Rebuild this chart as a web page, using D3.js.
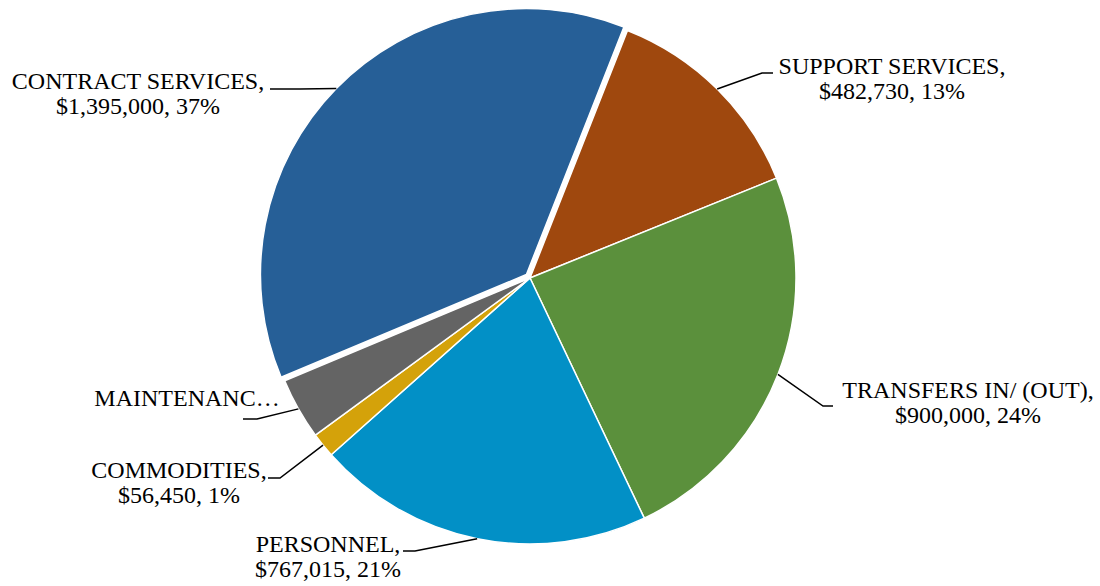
<!DOCTYPE html>
<html>
<head>
<meta charset="utf-8">
<script src="https://cdn.jsdelivr.net/npm/d3@7"></script>
<style>
  body { margin: 0; background: #fff; }
  svg text { font-family: "Liberation Serif", "Times New Roman", serif; font-size: 24px; fill: #000; }
</style>
</head>
<body>
<svg id="chart" width="1100" height="586"></svg>
<script>
// Budget by category (clockwise from the first slice)
const categories = ["SUPPORT SERVICES", "TRANSFERS IN/ (OUT)", "PERSONNEL", "COMMODITIES", "MAINTENANCE", "CONTRACT SERVICES"];
const values = [482730, 900000, 767015, 56450, 140000, 1395000];
const percentLabels = ["13%", "24%", "21%", "1%", "4%", "37%"];
const colors = ["#9f480e", "#5b903c", "#0290c6", "#d4a20a", "#646464", "#265f97"];

// Label text placement: centre x, first baseline, leader elbow and end
const labelLayout = {
  "SUPPORT SERVICES":    { x: 892, y: 74,  elbow: [762, 73],  end: [773, 73] },
  "TRANSFERS IN/ (OUT)": { x: 968, y: 398, elbow: [823, 406], end: [833, 406] },
  "PERSONNEL":           { x: 328, y: 552, elbow: [415, 551], end: [403, 551] },
  "COMMODITIES":         { x: 179, y: 478, elbow: [280, 478], end: [268, 478] },
  "MAINTENANCE":         { x: 187, y: 406, elbow: [257, 419], end: [243, 419], truncated: "MAINTENANC…" },
  "CONTRACT SERVICES":   { x: 138, y: 89,  elbow: [300, 89],  end: [270, 89] }
};
const explodedCategory = "CONTRACT SERVICES";

const cx = 530, cy = 278, radius = 266, explode = 5, lineGap = 25;
const fmt = d3.format("$,");

const data = categories.map((c, i) => ({ category: c, value: values[i], pct: percentLabels[i], color: colors[i] }));

const pie = d3.pie()
  .value(d => d.value)
  .sort(null)
  .startAngle(21.5 * Math.PI / 180)
  .endAngle(21.5 * Math.PI / 180 + 2 * Math.PI);

const arc = d3.arc().innerRadius(0).outerRadius(radius);
const arcs = pie(data);

const svg = d3.select("#chart");
const g = svg.append("g").attr("transform", `translate(${cx},${cy})`);

function offsetOf(a) {
  if (a.data.category !== explodedCategory) return [0, 0];
  const m = (a.startAngle + a.endAngle) / 2;
  return [Math.sin(m) * explode, -Math.cos(m) * explode];
}

g.selectAll("path.slice")
  .data(arcs)
  .join("path")
  .attr("class", "slice")
  .attr("d", arc)
  .attr("transform", a => { const o = offsetOf(a); return `translate(${o[0]},${o[1]})`; })
  .attr("fill", a => a.data.color)
  .attr("stroke", "#ffffff")
  .attr("stroke-width", 1.5)
  .attr("stroke-linejoin", "round");

// Leader lines and labels
const labels = svg.append("g");
arcs.forEach(a => {
  const L = labelLayout[a.data.category];
  const m = (a.startAngle + a.endAngle) / 2;
  const o = offsetOf(a);
  const start = [cx + o[0] + Math.sin(m) * radius, cy + o[1] - Math.cos(m) * radius];
  labels.append("polyline")
    .attr("points", [start, L.elbow, L.end].map(p => p.join(",")).join(" "))
    .attr("fill", "none")
    .attr("stroke", "#000")
    .attr("stroke-width", 1.5);

  const lines = L.truncated ? [L.truncated] : [a.data.category + ",", fmt(a.data.value) + ", " + a.data.pct];
  const t = labels.append("text").attr("text-anchor", "middle");
  lines.forEach((s, i) => {
    t.append("tspan").attr("x", L.x).attr("y", L.y + i * lineGap).text(s);
  });
});
</script>
</body>
</html>
